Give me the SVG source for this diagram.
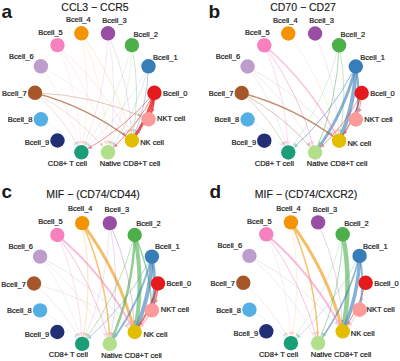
<svg xmlns="http://www.w3.org/2000/svg" width="400" height="361" viewBox="0 0 400 361">
<style>
text{font-family:"Liberation Sans",Arial,sans-serif;fill:#1a1a1a}
.lbl{font-size:7.5px;stroke:#1a1a1a;stroke-width:0.22px}
.ttl{font-size:10.5px;text-anchor:middle;stroke:#1a1a1a;stroke-width:0.15px}
.tag{font-size:19px;font-weight:bold}
.st{text-anchor:start}.mi{text-anchor:middle}.en{text-anchor:end}
.e path{fill:none;stroke-linecap:round}
.s0{stroke:#E41A1C;marker-end:url(#m0)}
.s1{stroke:#377EB8;marker-end:url(#m1)}
.s2{stroke:#4DAF4A;marker-end:url(#m2)}
.s3{stroke:#984EA3;marker-end:url(#m3)}
.s4{stroke:#F29403;marker-end:url(#m4)}
.s5{stroke:#F781BF;marker-end:url(#m5)}
.s6{stroke:#BC9DCC;marker-end:url(#m6)}
.s7{stroke:#A65628;marker-end:url(#m7)}
.s8{stroke:#54B0E4;marker-end:url(#m8)}
.s13{stroke:#FB9A99;marker-end:url(#m13)}
</style>
<defs>
<marker id="m0" markerUnits="userSpaceOnUse" markerWidth="4" markerHeight="4" refX="11.4" refY="1.6" orient="auto" overflow="visible"><path d="M0,0 L3.6,1.6 L0,3.2 z" fill="#E41A1C"/></marker>
<marker id="m1" markerUnits="userSpaceOnUse" markerWidth="4" markerHeight="4" refX="11.4" refY="1.6" orient="auto" overflow="visible"><path d="M0,0 L3.6,1.6 L0,3.2 z" fill="#377EB8"/></marker>
<marker id="m2" markerUnits="userSpaceOnUse" markerWidth="4" markerHeight="4" refX="11.4" refY="1.6" orient="auto" overflow="visible"><path d="M0,0 L3.6,1.6 L0,3.2 z" fill="#4DAF4A"/></marker>
<marker id="m3" markerUnits="userSpaceOnUse" markerWidth="4" markerHeight="4" refX="11.4" refY="1.6" orient="auto" overflow="visible"><path d="M0,0 L3.6,1.6 L0,3.2 z" fill="#984EA3"/></marker>
<marker id="m4" markerUnits="userSpaceOnUse" markerWidth="4" markerHeight="4" refX="11.4" refY="1.6" orient="auto" overflow="visible"><path d="M0,0 L3.6,1.6 L0,3.2 z" fill="#F29403"/></marker>
<marker id="m5" markerUnits="userSpaceOnUse" markerWidth="4" markerHeight="4" refX="11.4" refY="1.6" orient="auto" overflow="visible"><path d="M0,0 L3.6,1.6 L0,3.2 z" fill="#F781BF"/></marker>
<marker id="m6" markerUnits="userSpaceOnUse" markerWidth="4" markerHeight="4" refX="11.4" refY="1.6" orient="auto" overflow="visible"><path d="M0,0 L3.6,1.6 L0,3.2 z" fill="#BC9DCC"/></marker>
<marker id="m7" markerUnits="userSpaceOnUse" markerWidth="4" markerHeight="4" refX="11.4" refY="1.6" orient="auto" overflow="visible"><path d="M0,0 L3.6,1.6 L0,3.2 z" fill="#A65628"/></marker>
<marker id="m8" markerUnits="userSpaceOnUse" markerWidth="4" markerHeight="4" refX="11.4" refY="1.6" orient="auto" overflow="visible"><path d="M0,0 L3.6,1.6 L0,3.2 z" fill="#54B0E4"/></marker>
<marker id="m13" markerUnits="userSpaceOnUse" markerWidth="4" markerHeight="4" refX="11.4" refY="1.6" orient="auto" overflow="visible"><path d="M0,0 L3.6,1.6 L0,3.2 z" fill="#FB9A99"/></marker>
</defs>
<rect width="400" height="361" fill="#ffffff"/>

<!-- Panel a -->
<g id="panel-a">
<text class="tag" x="1.5" y="17.8">a</text>
<text class="ttl" x="95" y="10.7">CCL3 − CCR5</text>
<g id="a-connectors" class="e">
<path class="s0" stroke-width="3" opacity="0.75" d="M154.4,92.8 Q147.9,118.9 131.9,140.5"/>
<path class="s0" stroke-width="2.5" opacity="0.75" d="M154.4,92.8 Q154.1,106.6 148.5,119.3"/>
<path class="s0" stroke-width="0.9" opacity="0.6" d="M154.4,92.8 Q137.15,127.2 108,152.3"/>
<path class="s0" stroke-width="0.8" opacity="0.6" d="M154.4,92.8 Q123.85,129.85 81.4,152.3"/>
<path class="s7" stroke-width="1.3" opacity="0.7" d="M35,92.8 Q88.2,106.95 131.9,140.5"/>
<path class="s7" stroke-width="0.7" opacity="0.45" d="M35,92.8 Q94.4,94.7 148.5,119.3"/>
<path class="s7" stroke-width="0.5" opacity="0.35" d="M35,92.8 Q64.15,117.9 81.4,152.3"/>
<path class="s7" stroke-width="0.5" opacity="0.35" d="M35,92.8 Q77.45,115.25 108,152.3"/>
<path class="s1" stroke-width="0.8" opacity="0.45" d="M148.5,66.3 Q147.6,105.05 131.9,140.5"/>
<path class="s1" stroke-width="0.5" opacity="0.35" d="M148.5,66.3 Q136.85,113.35 108,152.3"/>
<path class="s1" stroke-width="0.4" opacity="0.3" d="M148.5,66.3 Q123.55,116 81.4,152.3"/>
<path class="s2" stroke-width="0.7" opacity="0.4" d="M131.9,45.1 Q141.45,92.8 131.9,140.5"/>
<path class="s2" stroke-width="0.4" opacity="0.3" d="M131.9,45.1 Q117.35,103.75 81.4,152.3"/>
<path class="s2" stroke-width="0.4" opacity="0.3" d="M131.9,45.1 Q130.65,101.1 108,152.3"/>
<path class="s3" stroke-width="0.5" opacity="0.35" d="M108,33.3 Q130.65,84.5 131.9,140.5"/>
<path class="s3" stroke-width="0.4" opacity="0.3" d="M108,33.3 Q106.6,95.45 81.4,152.3"/>
<path class="s3" stroke-width="0.4" opacity="0.3" d="M108,33.3 Q119.9,92.8 108,152.3"/>
<path class="s4" stroke-width="0.5" opacity="0.35" d="M81.4,33.3 Q117.35,81.85 131.9,140.5"/>
<path class="s4" stroke-width="0.4" opacity="0.3" d="M81.4,33.3 Q93.3,92.8 81.4,152.3"/>
<path class="s4" stroke-width="0.4" opacity="0.3" d="M81.4,33.3 Q106.6,90.15 108,152.3"/>
<path class="s5" stroke-width="0.5" opacity="0.35" d="M57.5,45.1 Q104.25,85.35 131.9,140.5"/>
<path class="s5" stroke-width="0.4" opacity="0.3" d="M57.5,45.1 Q80.15,96.3 81.4,152.3"/>
<path class="s5" stroke-width="0.4" opacity="0.3" d="M57.5,45.1 Q93.45,93.65 108,152.3"/>
<path class="s6" stroke-width="0.4" opacity="0.3" d="M40.9,66.3 Q69.75,105.25 81.4,152.3"/>
<path class="s6" stroke-width="0.4" opacity="0.3" d="M40.9,66.3 Q93.8,94.3 131.9,140.5"/>
<path class="s8" stroke-width="0.4" opacity="0.3" d="M40.9,119.3 Q64.45,131.75 81.4,152.3"/>
</g>
<g id="a-Bcell_0"><circle cx="154.4" cy="92.8" r="7.2" fill="#E41A1C"/><text class="lbl st" x="162.9" y="95.5">Bcell_0</text></g>
<g id="a-Bcell_1"><circle cx="148.5" cy="66.3" r="7.2" fill="#377EB8"/><text class="lbl st" x="153" y="59.8">Bcell_1</text></g>
<g id="a-Bcell_2"><circle cx="131.9" cy="45.1" r="7.2" fill="#4DAF4A"/><text class="lbl st" x="133.4" y="36.6">Bcell_2</text></g>
<g id="a-Bcell_3"><circle cx="108" cy="33.3" r="7.2" fill="#984EA3"/><text class="lbl mi" x="114.5" y="23">Bcell_3</text></g>
<g id="a-Bcell_4"><circle cx="81.4" cy="33.3" r="7.2" fill="#F29403"/><text class="lbl mi" x="78.4" y="22.3">Bcell_4</text></g>
<g id="a-Bcell_5"><circle cx="57.5" cy="45.1" r="7.2" fill="#F781BF"/><text class="lbl mi" x="50.5" y="34.8">Bcell_5</text></g>
<g id="a-Bcell_6"><circle cx="40.9" cy="66.3" r="7.2" fill="#BC9DCC"/><text class="lbl en" x="33.6" y="59">Bcell_6</text></g>
<g id="a-Bcell_7"><circle cx="35" cy="92.8" r="7.2" fill="#A65628"/><text class="lbl en" x="26.7" y="95.5">Bcell_7</text></g>
<g id="a-Bcell_8"><circle cx="40.9" cy="119.3" r="7.2" fill="#54B0E4"/><text class="lbl en" x="32.4" y="122">Bcell_8</text></g>
<g id="a-Bcell_9"><circle cx="57.5" cy="140.5" r="7.2" fill="#222F75"/><text class="lbl en" x="49.3" y="145.1">Bcell_9</text></g>
<g id="a-CD8T"><circle cx="81.4" cy="152.3" r="7.2" fill="#1B9E77"/><text class="lbl mi" x="67.4" y="165.6">CD8+ T cell</text></g>
<g id="a-NativeCD8T"><circle cx="108" cy="152.3" r="7.2" fill="#B2DF8A"/><text class="lbl mi" x="130" y="166.1">Native CD8+T cell</text></g>
<g id="a-NK"><circle cx="131.9" cy="140.5" r="7.2" fill="#E3BE00"/><text class="lbl st" x="140.2" y="145.3">NK cell</text></g>
<g id="a-NKT"><circle cx="148.5" cy="119.3" r="7.2" fill="#FB9A99"/><text class="lbl st" x="157" y="121.3">NKT cell</text></g>
</g>

<!-- Panel b -->
<g id="panel-b">
<text class="tag" x="208.5" y="17.8">b</text>
<text class="ttl" x="303" y="10.5">CD70 − CD27</text>
<g id="b-connectors" class="e">
<path class="s1" stroke-width="4" opacity="0.6" d="M355.8,66.5 Q354.9,105.3 339.1,140.7"/>
<path class="s1" stroke-width="3" opacity="0.6" d="M355.8,66.5 Q344.05,113.55 315.1,152.5"/>
<path class="s1" stroke-width="2" opacity="0.6" d="M355.8,66.5 Q361.1,93 355.8,119.5"/>
<path class="s1" stroke-width="1" opacity="0.5" d="M355.8,66.5 Q330.65,116.25 288.3,152.5"/>
<path class="s5" stroke-width="1.5" opacity="0.5" d="M264.3,45.3 Q311.25,85.5 339.1,140.7"/>
<path class="s5" stroke-width="1" opacity="0.45" d="M264.3,45.3 Q300.4,93.8 315.1,152.5"/>
<path class="s5" stroke-width="0.7" opacity="0.4" d="M264.3,45.3 Q287,96.5 288.3,152.5"/>
<path class="s7" stroke-width="1.3" opacity="0.65" d="M241.7,93 Q295.15,107.1 339.1,140.7"/>
<path class="s7" stroke-width="0.8" opacity="0.45" d="M241.7,93 Q284.35,115.4 315.1,152.5"/>
<path class="s7" stroke-width="0.6" opacity="0.4" d="M241.7,93 Q270.95,118.1 288.3,152.5"/>
<path class="s6" stroke-width="0.6" opacity="0.4" d="M247.6,66.5 Q300.75,94.45 339.1,140.7"/>
<path class="s6" stroke-width="0.5" opacity="0.35" d="M247.6,66.5 Q289.95,102.75 315.1,152.5"/>
<path class="s6" stroke-width="0.5" opacity="0.35" d="M247.6,66.5 Q276.55,105.45 288.3,152.5"/>
<path class="s2" stroke-width="0.9" opacity="0.5" d="M339.1,45.3 Q337.8,101.3 315.1,152.5"/>
<path class="s2" stroke-width="0.7" opacity="0.45" d="M339.1,45.3 Q348.65,93 339.1,140.7"/>
<path class="s2" stroke-width="0.5" opacity="0.35" d="M339.1,45.3 Q324.4,104 288.3,152.5"/>
<path class="s0" stroke-width="1.2" opacity="0.6" d="M361.7,93 Q355.15,119.1 339.1,140.7"/>
<path class="s0" stroke-width="0.8" opacity="0.5" d="M361.7,93 Q344.35,127.4 315.1,152.5"/>
<path class="s0" stroke-width="0.8" opacity="0.5" d="M361.7,93 Q361.4,106.85 355.8,119.5"/>
<path class="s4" stroke-width="0.4" opacity="0.3" d="M288.3,33.5 Q324.4,82 339.1,140.7"/>
<path class="s3" stroke-width="0.4" opacity="0.3" d="M315.1,33.5 Q337.8,84.7 339.1,140.7"/>
<path class="s8" stroke-width="0.4" opacity="0.3" d="M247.6,119.5 Q271.25,131.95 288.3,152.5"/>
</g>
<g id="b-Bcell_0"><circle cx="361.7" cy="93" r="7.2" fill="#E41A1C"/><text class="lbl st" x="370.2" y="95.7">Bcell_0</text></g>
<g id="b-Bcell_1"><circle cx="355.8" cy="66.5" r="7.2" fill="#377EB8"/><text class="lbl st" x="360.3" y="60">Bcell_1</text></g>
<g id="b-Bcell_2"><circle cx="339.1" cy="45.3" r="7.2" fill="#4DAF4A"/><text class="lbl st" x="340.6" y="36.8">Bcell_2</text></g>
<g id="b-Bcell_3"><circle cx="315.1" cy="33.5" r="7.2" fill="#984EA3"/><text class="lbl mi" x="321.6" y="23.2">Bcell_3</text></g>
<g id="b-Bcell_4"><circle cx="288.3" cy="33.5" r="7.2" fill="#F29403"/><text class="lbl mi" x="285.3" y="22.5">Bcell_4</text></g>
<g id="b-Bcell_5"><circle cx="264.3" cy="45.3" r="7.2" fill="#F781BF"/><text class="lbl mi" x="257.3" y="35">Bcell_5</text></g>
<g id="b-Bcell_6"><circle cx="247.6" cy="66.5" r="7.2" fill="#BC9DCC"/><text class="lbl en" x="240.3" y="59.2">Bcell_6</text></g>
<g id="b-Bcell_7"><circle cx="241.7" cy="93" r="7.2" fill="#A65628"/><text class="lbl en" x="233.4" y="95.7">Bcell_7</text></g>
<g id="b-Bcell_8"><circle cx="247.6" cy="119.5" r="7.2" fill="#54B0E4"/><text class="lbl en" x="239.1" y="122.2">Bcell_8</text></g>
<g id="b-Bcell_9"><circle cx="264.3" cy="140.7" r="7.2" fill="#222F75"/><text class="lbl en" x="256.1" y="145.3">Bcell_9</text></g>
<g id="b-CD8T"><circle cx="288.3" cy="152.5" r="7.2" fill="#1B9E77"/><text class="lbl mi" x="274.3" y="165.8">CD8+ T cell</text></g>
<g id="b-NativeCD8T"><circle cx="315.1" cy="152.5" r="7.2" fill="#B2DF8A"/><text class="lbl mi" x="337.1" y="166.3">Native CD8+T cell</text></g>
<g id="b-NK"><circle cx="339.1" cy="140.7" r="7.2" fill="#E3BE00"/><text class="lbl st" x="347.4" y="145.5">NK cell</text></g>
<g id="b-NKT"><circle cx="355.8" cy="119.5" r="7.2" fill="#FB9A99"/><text class="lbl st" x="364.3" y="121.5">NKT cell</text></g>
</g>

<!-- Panel c -->
<g id="panel-c">
<text class="tag" x="1.5" y="197.5">c</text>
<text class="ttl" x="93" y="198.3">MIF − (CD74/CD44)</text>
<g id="c-connectors" class="e">
<path class="s4" stroke-width="3" opacity="0.6" d="M82.2,223.1 Q119.35,272.3 134.7,332"/>
<path class="s4" stroke-width="1.5" opacity="0.55" d="M82.2,223.1 Q108.1,280.75 109.8,343.9"/>
<path class="s4" stroke-width="0.6" opacity="0.4" d="M82.2,223.1 Q94.3,283.5 82.2,343.9"/>
<path class="s2" stroke-width="4" opacity="0.6" d="M134.7,235 Q144.4,283.5 134.7,332"/>
<path class="s2" stroke-width="2.5" opacity="0.6" d="M134.7,235 Q133.15,291.95 109.8,343.9"/>
<path class="s2" stroke-width="1.5" opacity="0.55" d="M134.7,235 Q150.85,270.95 151.9,310.4"/>
<path class="s2" stroke-width="0.8" opacity="0.45" d="M134.7,235 Q119.35,294.7 82.2,343.9"/>
<path class="s1" stroke-width="4" opacity="0.6" d="M151.9,256.6 Q150.85,296 134.7,332"/>
<path class="s1" stroke-width="3" opacity="0.6" d="M151.9,256.6 Q157.3,283.5 151.9,310.4"/>
<path class="s1" stroke-width="2" opacity="0.55" d="M151.9,256.6 Q139.6,304.45 109.8,343.9"/>
<path class="s1" stroke-width="0.8" opacity="0.45" d="M151.9,256.6 Q125.8,307.2 82.2,343.9"/>
<path class="s5" stroke-width="1.8" opacity="0.55" d="M57.3,235 Q105.7,275.75 134.7,332"/>
<path class="s5" stroke-width="1" opacity="0.45" d="M57.3,235 Q94.45,284.2 109.8,343.9"/>
<path class="s5" stroke-width="0.6" opacity="0.4" d="M57.3,235 Q80.65,286.95 82.2,343.9"/>
<path class="s0" stroke-width="2" opacity="0.6" d="M158,283.5 Q151.2,310.1 134.7,332"/>
<path class="s0" stroke-width="1.5" opacity="0.55" d="M158,283.5 Q157.65,297.55 151.9,310.4"/>
<path class="s3" stroke-width="0.7" opacity="0.45" d="M109.8,223.1 Q133.15,275.05 134.7,332"/>
<path class="s3" stroke-width="0.5" opacity="0.4" d="M109.8,223.1 Q121.9,283.5 109.8,343.9"/>
<path class="s3" stroke-width="0.4" opacity="0.35" d="M109.8,223.1 Q108.1,286.25 82.2,343.9"/>
<path class="s6" stroke-width="0.6" opacity="0.4" d="M40.1,256.6 Q94.95,284.85 134.7,332"/>
<path class="s6" stroke-width="0.5" opacity="0.35" d="M40.1,256.6 Q83.7,293.3 109.8,343.9"/>
<path class="s6" stroke-width="0.4" opacity="0.35" d="M40.1,256.6 Q69.9,296.05 82.2,343.9"/>
<path class="s7" stroke-width="0.4" opacity="0.3" d="M34,283.5 Q64.15,308.9 82.2,343.9"/>
<path class="s7" stroke-width="0.4" opacity="0.3" d="M34,283.5 Q89.2,297.7 134.7,332"/>
<path class="s8" stroke-width="0.4" opacity="0.3" d="M40.1,310.4 Q64.5,322.95 82.2,343.9"/>
<path class="s13" stroke-width="1.5" opacity="0.6" d="M151.9,310.4 Q145.45,322.9 134.7,332"/>
</g>
<g id="c-Bcell_0"><circle cx="158" cy="283.5" r="7.2" fill="#E41A1C"/><text class="lbl st" x="166.5" y="286.2">Bcell_0</text></g>
<g id="c-Bcell_1"><circle cx="151.9" cy="256.6" r="7.2" fill="#377EB8"/><text class="lbl st" x="155" y="249">Bcell_1</text></g>
<g id="c-Bcell_2"><circle cx="134.7" cy="235" r="7.2" fill="#4DAF4A"/><text class="lbl st" x="136.2" y="226">Bcell_2</text></g>
<g id="c-Bcell_3"><circle cx="109.8" cy="223.1" r="7.2" fill="#984EA3"/><text class="lbl mi" x="116.8" y="212.2">Bcell_3</text></g>
<g id="c-Bcell_4"><circle cx="82.2" cy="223.1" r="7.2" fill="#F29403"/><text class="lbl mi" x="80.2" y="211">Bcell_4</text></g>
<g id="c-Bcell_5"><circle cx="57.3" cy="235" r="7.2" fill="#F781BF"/><text class="lbl mi" x="50.5" y="224.4">Bcell_5</text></g>
<g id="c-Bcell_6"><circle cx="40.1" cy="256.6" r="7.2" fill="#BC9DCC"/><text class="lbl en" x="33" y="248.5">Bcell_6</text></g>
<g id="c-Bcell_7"><circle cx="34" cy="283.5" r="7.2" fill="#A65628"/><text class="lbl en" x="25.9" y="286.7">Bcell_7</text></g>
<g id="c-Bcell_8"><circle cx="40.1" cy="310.4" r="7.2" fill="#54B0E4"/><text class="lbl en" x="31.7" y="312.9">Bcell_8</text></g>
<g id="c-Bcell_9"><circle cx="57.3" cy="332" r="7.2" fill="#222F75"/><text class="lbl en" x="49.3" y="336.7">Bcell_9</text></g>
<g id="c-CD8T"><circle cx="82.2" cy="343.9" r="7.2" fill="#1B9E77"/><text class="lbl mi" x="68.3" y="356.8">CD8+ T cell</text></g>
<g id="c-NativeCD8T"><circle cx="109.8" cy="343.9" r="7.2" fill="#B2DF8A"/><text class="lbl mi" x="131.5" y="357.7">Native CD8+T cell</text></g>
<g id="c-NK"><circle cx="134.7" cy="332" r="7.2" fill="#E3BE00"/><text class="lbl st" x="143.6" y="337">NK cell</text></g>
<g id="c-NKT"><circle cx="151.9" cy="310.4" r="7.2" fill="#FB9A99"/><text class="lbl st" x="160.8" y="312">NKT cell</text></g>
</g>

<!-- Panel d -->
<g id="panel-d">
<text class="tag" x="209.5" y="198">d</text>
<text class="ttl" x="306" y="198.3">MIF − (CD74/CXCR2)</text>
<g id="d-connectors" class="e">
<path class="s4" stroke-width="3" opacity="0.6" d="M290.9,222.4 Q327.7,271.65 342.7,331.3"/>
<path class="s4" stroke-width="1.5" opacity="0.55" d="M290.9,222.4 Q316.6,280.1 318.1,343.2"/>
<path class="s4" stroke-width="0.4" opacity="0.35" d="M290.9,222.4 Q303,282.8 290.9,343.2"/>
<path class="s2" stroke-width="4.5" opacity="0.6" d="M342.7,234.3 Q352.4,282.8 342.7,331.3"/>
<path class="s2" stroke-width="1" opacity="0.45" d="M342.7,234.3 Q341.3,291.2 318.1,343.2"/>
<path class="s2" stroke-width="0.5" opacity="0.35" d="M342.7,234.3 Q327.7,293.95 290.9,343.2"/>
<path class="s1" stroke-width="3.5" opacity="0.6" d="M359.6,255.9 Q358.7,295.3 342.7,331.3"/>
<path class="s1" stroke-width="1.8" opacity="0.55" d="M359.6,255.9 Q347.6,303.7 318.1,343.2"/>
<path class="s1" stroke-width="2" opacity="0.55" d="M359.6,255.9 Q365,282.8 359.6,309.7"/>
<path class="s1" stroke-width="0.6" opacity="0.4" d="M359.6,255.9 Q334,306.4 290.9,343.2"/>
<path class="s5" stroke-width="2" opacity="0.55" d="M266.3,234.3 Q314.2,275.15 342.7,331.3"/>
<path class="s5" stroke-width="1" opacity="0.45" d="M266.3,234.3 Q303.1,283.55 318.1,343.2"/>
<path class="s5" stroke-width="0.4" opacity="0.35" d="M266.3,234.3 Q289.5,286.3 290.9,343.2"/>
<path class="s3" stroke-width="0.6" opacity="0.4" d="M318.1,222.4 Q341.3,274.4 342.7,331.3"/>
<path class="s6" stroke-width="0.6" opacity="0.4" d="M249.4,255.9 Q303.6,284.25 342.7,331.3"/>
<path class="s6" stroke-width="0.5" opacity="0.35" d="M249.4,255.9 Q292.5,292.7 318.1,343.2"/>
<path class="s0" stroke-width="1" opacity="0.5" d="M365.7,282.8 Q359.05,309.35 342.7,331.3"/>
<path class="s13" stroke-width="1" opacity="0.55" d="M359.6,309.7 Q353.3,322.2 342.7,331.3"/>
<path class="s7" stroke-width="0.4" opacity="0.3" d="M243.3,282.8 Q273.15,308.25 290.9,343.2"/>
<path class="s8" stroke-width="0.4" opacity="0.3" d="M249.4,309.7 Q273.5,322.3 290.9,343.2"/>
</g>
<g id="d-Bcell_0"><circle cx="365.7" cy="282.8" r="7.2" fill="#E41A1C"/><text class="lbl st" x="374.2" y="285.5">Bcell_0</text></g>
<g id="d-Bcell_1"><circle cx="359.6" cy="255.9" r="7.2" fill="#377EB8"/><text class="lbl st" x="363" y="248.5">Bcell_1</text></g>
<g id="d-Bcell_2"><circle cx="342.7" cy="234.3" r="7.2" fill="#4DAF4A"/><text class="lbl st" x="344.2" y="225.5">Bcell_2</text></g>
<g id="d-Bcell_3"><circle cx="318.1" cy="222.4" r="7.2" fill="#984EA3"/><text class="lbl mi" x="325" y="211.5">Bcell_3</text></g>
<g id="d-Bcell_4"><circle cx="290.9" cy="222.4" r="7.2" fill="#F29403"/><text class="lbl mi" x="288.5" y="210.5">Bcell_4</text></g>
<g id="d-Bcell_5"><circle cx="266.3" cy="234.3" r="7.2" fill="#F781BF"/><text class="lbl mi" x="259.3" y="223.8">Bcell_5</text></g>
<g id="d-Bcell_6"><circle cx="249.4" cy="255.9" r="7.2" fill="#BC9DCC"/><text class="lbl en" x="242.1" y="248.4">Bcell_6</text></g>
<g id="d-Bcell_7"><circle cx="243.3" cy="282.8" r="7.2" fill="#A65628"/><text class="lbl en" x="235" y="285.8">Bcell_7</text></g>
<g id="d-Bcell_8"><circle cx="249.4" cy="309.7" r="7.2" fill="#54B0E4"/><text class="lbl en" x="240.9" y="312.5">Bcell_8</text></g>
<g id="d-Bcell_9"><circle cx="266.3" cy="331.3" r="7.2" fill="#222F75"/><text class="lbl en" x="258.1" y="335.9">Bcell_9</text></g>
<g id="d-CD8T"><circle cx="290.9" cy="343.2" r="7.2" fill="#1B9E77"/><text class="lbl mi" x="278.5" y="356.6">CD8+ T cell</text></g>
<g id="d-NativeCD8T"><circle cx="318.1" cy="343.2" r="7.2" fill="#B2DF8A"/><text class="lbl mi" x="341" y="357.2">Native CD8+T cell</text></g>
<g id="d-NK"><circle cx="342.7" cy="331.3" r="7.2" fill="#E3BE00"/><text class="lbl st" x="350.8" y="336.2">NK cell</text></g>
<g id="d-NKT"><circle cx="359.6" cy="309.7" r="7.2" fill="#FB9A99"/><text class="lbl st" x="366.5" y="311.8">NKT cell</text></g>
</g>
</svg>
